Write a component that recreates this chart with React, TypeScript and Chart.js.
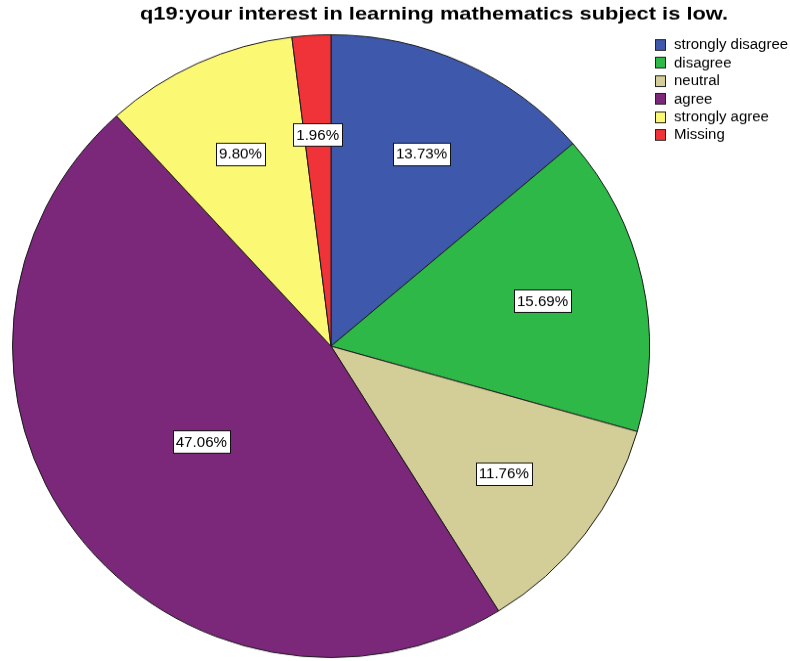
import { useEffect, useRef } from "react";
import { Chart, registerables } from "chart.js";

Chart.register(...registerables);

const TITLE = "q19:your interest in learning mathematics subject is low.";
const categories = ["strongly disagree", "disagree", "neutral", "agree", "strongly agree", "Missing"];
const percentages = [13.73, 15.69, 11.76, 47.06, 9.8, 1.96];
const percentLabels = ["13.73%", "15.69%", "11.76%", "47.06%", "9.80%", "1.96%"];
const colors = ["#3E58AC", "#2EB848", "#D3CE97", "#7B287B", "#FBF873", "#EF3338"];

const W = 790;
const H_CSS = 661;
const H = 676; // drawn taller, shown at 661px: the reference pie is a slight ellipse
const YS = H / H_CSS;
const FONT = '"Liberation Sans", Arial, sans-serif';

function stretchedText(ctx: CanvasRenderingContext2D, text: string, x: number, y: number, sx: number, align: CanvasTextAlign) {
  ctx.save();
  ctx.translate(x, y);
  ctx.scale(sx, 1);
  ctx.textAlign = align;
  ctx.textBaseline = "middle";
  ctx.fillText(text, 0, 0);
  ctx.restore();
}

const decorPlugin = {
  id: "spssDecor",
  afterDatasetsDraw(chart: any) {
    const ctx: CanvasRenderingContext2D = chart.ctx;
    const meta = chart.getDatasetMeta(0);

    // percentage labels
    ctx.save();
    ctx.font = `14px ${FONT}`;
    meta.data.forEach((arc: any, i: number) => {
      const { x, y, startAngle, endAngle, outerRadius } = arc.getProps(
        ["x", "y", "startAngle", "endAngle", "outerRadius"],
        true
      );
      const mid = (startAngle + endAngle) / 2;
      const share = (endAngle - startAngle) / (2 * Math.PI);
      const k = share > 0.4 ? 0.51 : 0.68;
      const cx = x + Math.cos(mid) * outerRadius * k;
      const cy = y + Math.sin(mid) * outerRadius * k;
      const text = percentLabels[i];
      const sx = 1.08;
      const tw = ctx.measureText(text).width * sx;
      const bw = Math.round(tw + 6);
      const bh = 23;
      const left = Math.round(cx - bw / 2) + 0.5;
      const top = Math.round(cy - bh / 2) + 0.5;
      ctx.fillStyle = "#ffffff";
      ctx.fillRect(left, top, bw, bh);
      ctx.strokeStyle = "#111111";
      ctx.lineWidth = 1;
      ctx.strokeRect(left, top, bw, bh);
      ctx.fillStyle = "#000000";
      stretchedText(ctx, text, cx, cy + 1, sx, "center");
    });
    ctx.restore();

    // title
    ctx.save();
    ctx.font = `bold 19px ${FONT}`;
    ctx.fillStyle = "#000000";
    stretchedText(ctx, TITLE, 140, 14 * YS, 1.15, "left");
    ctx.restore();

    // legend
    ctx.save();
    ctx.font = `14px ${FONT}`;
    categories.forEach((label, i) => {
      const cy = (44.5 + i * 18) * YS;
      const bx = 655.5;
      const bh = 11;
      const by = Math.round(cy - bh / 2) + 0.5;
      ctx.fillStyle = colors[i];
      ctx.fillRect(bx, by, 10, bh);
      ctx.strokeStyle = "#222222";
      ctx.lineWidth = 1;
      ctx.strokeRect(bx, by, 10, bh);
      ctx.fillStyle = "#000000";
      stretchedText(ctx, label, 674, cy + 1, 1.07, "left");
    });
    ctx.restore();
  },
};

export default function App() {
  const ref = useRef<HTMLCanvasElement | null>(null);

  useEffect(() => {
    document.body.style.margin = "0";
    const canvas = ref.current;
    if (!canvas) return;
    const chart = new Chart(canvas, {
      type: "pie",
      data: {
        labels: categories,
        datasets: [
          {
            data: percentages,
            backgroundColor: colors,
            borderColor: "#1a1a1a",
            borderWidth: 1,
          },
        ],
      },
      options: {
        responsive: false,
        animation: false,
        devicePixelRatio: 1,
        layout: { padding: { left: 12, right: 140, top: 35, bottom: 3 } },
        plugins: {
          legend: { display: false },
          title: { display: false },
          tooltip: { enabled: false },
        },
      },
      plugins: [decorPlugin],
    } as any);
    return () => chart.destroy();
  }, []);

  return (
    <canvas
      ref={ref}
      width={W}
      height={H}
      style={{ width: `${W}px`, height: `${H_CSS}px`, display: "block" }}
    />
  );
}
